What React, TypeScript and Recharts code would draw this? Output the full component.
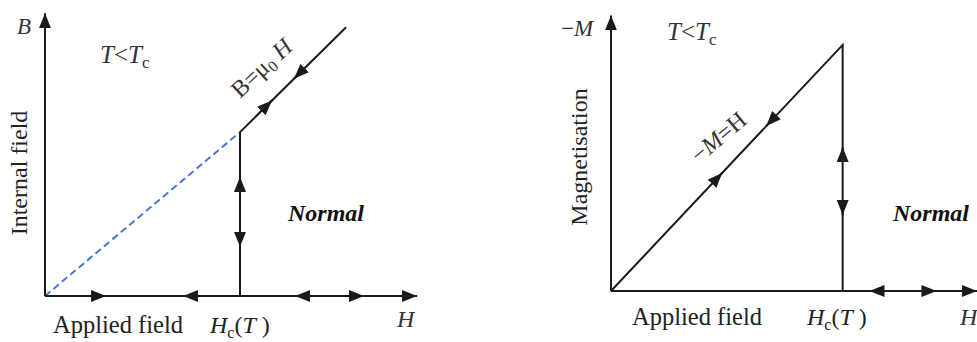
import { Line, LineChart, XAxis, YAxis } from "recharts"

type Pt = { x: number; y: number }

// Left panel: internal field B against applied field H (Hc = 1)
const bAxisX: Pt[] = [{ x: 0, y: 0 }, { x: 1.908, y: 0 }]
const bAxisY: Pt[] = [{ x: 0, y: 0 }, { x: 0, y: 1.726 }]
const bMeissner: Pt[] = [{ x: 0, y: 0 }, { x: 1, y: 1 }]
const bJump: Pt[] = [{ x: 1, y: 0 }, { x: 1, y: 1 }]
const bNormal: Pt[] = [{ x: 1, y: 1 }, { x: 1.544, y: 1.64 }]
const bArrows: Pt[][] = [
  [{ x: 0.24, y: 0 }, { x: 0.313, y: 0 }],
  [{ x: 0.78, y: 0 }, { x: 0.708, y: 0 }],
  [{ x: 1.355, y: 0 }, { x: 1.282, y: 0 }],
  [{ x: 1.565, y: 0 }, { x: 1.636, y: 0 }],
  [{ x: 1, y: 0.64 }, { x: 1, y: 0.726 }],
  [{ x: 1, y: 0.385 }, { x: 1, y: 0.3 }],
  [{ x: 1.12, y: 1.141 }, { x: 1.164, y: 1.193 }],
  [{ x: 1.32, y: 1.377 }, { x: 1.277, y: 1.326 }],
]

// Right panel: -M against applied field H (Hc = 1)
const mAxisX: Pt[] = [{ x: 0, y: 0 }, { x: 1.58, y: 0 }]
const mAxisY: Pt[] = [{ x: 0, y: 0 }, { x: 0, y: 1.12 }]
const mCurve: Pt[] = [{ x: 0, y: 0 }, { x: 1, y: 1 }, { x: 1, y: 0 }]
const mArrows: Pt[][] = [
  [{ x: 1.176, y: 0 }, { x: 1.116, y: 0 }],
  [{ x: 1.345, y: 0 }, { x: 1.405, y: 0 }],
  [{ x: 1, y: 0.53 }, { x: 1, y: 0.585 }],
  [{ x: 1, y: 0.365 }, { x: 1, y: 0.309 }],
  [{ x: 0.44, y: 0.44 }, { x: 0.48, y: 0.48 }],
  [{ x: 0.71, y: 0.71 }, { x: 0.67, y: 0.67 }],
]

const ink = "#1a1a1a"
const serif = "'Liberation Serif', 'Times New Roman', serif"

function ArrowDefs({ id }: { id: string }) {
  return (
    <defs>
      <marker
        id={id}
        viewBox="0 0 15 12"
        refX="15"
        refY="6"
        markerWidth="15"
        markerHeight="12"
        markerUnits="userSpaceOnUse"
        orient="auto"
      >
        <path d="M0,0 L15,6 L0,12 z" fill={ink} />
      </marker>
    </defs>
  )
}

function seg(key: string, data: Pt[], marker?: string, extra: object = {}) {
  return (
    <Line
      key={key}
      data={data}
      dataKey="y"
      stroke={ink}
      strokeWidth={2}
      dot={false}
      activeDot={false}
      isAnimationActive={false}
      markerEnd={marker ? `url(#${marker})` : undefined}
      {...extra}
    />
  )
}

function Tc({ x, y }: { x: number; y: number }) {
  return (
    <text x={x} y={y} fontSize={25} fill="#333">
      <tspan fontStyle="italic">T</tspan>
      <tspan>{"<"}</tspan>
      <tspan fontStyle="italic">T</tspan>
      <tspan fontSize={17} dy={5}>c</tspan>
    </text>
  )
}

function HcT({ x, y }: { x: number; y: number }) {
  return (
    <text x={x} y={y} fontSize={24} fill="#222">
      <tspan fontStyle="italic">H</tspan>
      <tspan fontSize={16} dy={5}>c</tspan>
      <tspan dy={-5}>(</tspan>
      <tspan fontStyle="italic">T</tspan>
      <tspan> )</tspan>
    </text>
  )
}

function InternalFieldPanel() {
  return (
    <LineChart width={440} height={342} margin={{ top: 1, right: 5, bottom: 46, left: 45 }}>
      <ArrowDefs id="arrowB" />
      <XAxis type="number" dataKey="x" domain={[0, 2]} hide />
      <YAxis type="number" domain={[0, 1.8]} hide />
      {seg("bMeissner", bMeissner, undefined, { stroke: "#4a78cf", strokeDasharray: "7 4" })}
      {seg("bAxisX", bAxisX, "arrowB")}
      {seg("bAxisY", bAxisY, "arrowB")}
      {seg("bJump", bJump)}
      {seg("bNormal", bNormal)}
      {bArrows.map((a, i) => seg(`bArrow${i}`, a, "arrowB"))}
      <g fontFamily={serif}>
        <text x={17} y={34} fontSize={23} fontStyle="italic" fill="#333">B</text>
        <Tc x={100} y={63} />
        <text transform="translate(27 173) rotate(-90)" textAnchor="middle" fontSize={24} fill="#222">
          Internal field
        </text>
        <text transform="translate(240 99) rotate(-43)" fontSize={24} fill="#333">
          <tspan>B=μ</tspan>
          <tspan fontSize={16} dy={4}>0</tspan>
          <tspan fontStyle="italic" dy={-4}> H</tspan>
        </text>
        <text x={288} y={221} fontSize={24} fontWeight="bold" fontStyle="italic" fill="#111">Normal</text>
        <text x={53} y={333} fontSize={24.5} fill="#222">Applied field</text>
        <HcT x={210} y={333} />
        <text x={397} y={327} fontSize={24} fontStyle="italic" fill="#333">H</text>
      </g>
    </LineChart>
  )
}

function MagnetisationPanel() {
  return (
    <LineChart width={427} height={342} margin={{ top: 8, right: 0, bottom: 51, left: 61 }}>
      <ArrowDefs id="arrowM" />
      <XAxis type="number" dataKey="x" domain={[0, 1.58]} hide />
      <YAxis type="number" domain={[0, 1.15]} hide />
      {seg("mAxisX", mAxisX, "arrowM")}
      {seg("mAxisY", mAxisY, "arrowM")}
      {seg("mCurve", mCurve)}
      {mArrows.map((a, i) => seg(`mArrow${i}`, a, "arrowM"))}
      <g fontFamily={serif}>
        <text x={11} y={36} fontSize={23} fill="#333">
          <tspan>−</tspan>
          <tspan fontStyle="italic">M</tspan>
        </text>
        <Tc x={117} y={40} />
        <text transform="translate(37 157) rotate(-90)" textAnchor="middle" fontSize={24} fill="#222">
          Magnetisation
        </text>
        <text transform="translate(149 164) rotate(-40)" fontSize={24} fill="#333">
          <tspan>−</tspan>
          <tspan fontStyle="italic">M</tspan>
          <tspan>=H</tspan>
        </text>
        <text x={343} y={221} fontSize={24} fontWeight="bold" fontStyle="italic" fill="#111">Normal</text>
        <text x={82} y={325} fontSize={24.5} fill="#222">Applied field</text>
        <HcT x={257} y={325} />
        <text x={410} y={325} fontSize={24} fontStyle="italic" fill="#333">H</text>
      </g>
    </LineChart>
  )
}

export default function App() {
  return (
    <div style={{ position: "absolute", left: 0, top: 0, width: 977, height: 342, background: "#fff", overflow: "hidden" }}>
      <div style={{ position: "absolute", left: 0, top: 0 }}>
        <InternalFieldPanel />
      </div>
      <div style={{ position: "absolute", left: 550, top: 0 }}>
        <MagnetisationPanel />
      </div>
    </div>
  )
}
